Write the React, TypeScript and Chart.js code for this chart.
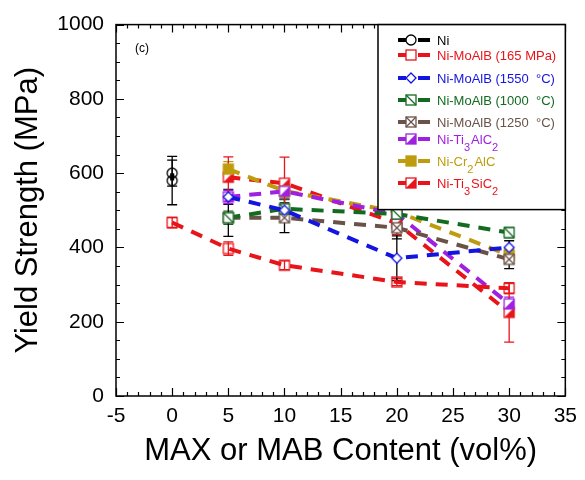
import React, { useEffect, useRef } from 'react';
import { Chart, registerables } from 'chart.js';
Chart.register(...registerables);

// ---- Data ----
const X_TICKS_MIN = -5;
const X_TICKS_MAX = 35;
const Y_MIN = 0;
const Y_MAX = 1000;

const NI_X = [0, 0];
const NI_Y = [600, 580];
const NI_ERR = [35, 65];

const MOALB165_X = [0, 5, 10, 20, 30];
const MOALB165_Y = [467, 397, 352, 307, 290];
const MOALB165_ERR = [14, 18, 12, 10, 14];

const MAX_X = [5, 10, 20, 30];

const MOALB1550_Y = [536, 500, 371, 400];
const MOALB1550_ERR = [20, 30, 60, 18];

const MOALB1000_Y = [480, 504, 490, 440];
const MOALB1000_ERR = [18, 25, 18, 14];

const MOALB1250_Y = [480, 480, 453, 368];
const MOALB1250_ERR = [50, 40, 30, 25];

const TI3ALC2_Y = [536, 551, 490, 248];
const TI3ALC2_ERR = [18, 18, 18, 18];

const CR2ALC_Y = [611, 552, 496, 379];
const CR2ALC_ERR = [20, 18, 15, 18];

const TI3SIC2_Y = [589, 573, 465, 225];
const TI3SIC2_ERR = [55, 70, 30, 80];

type Seg = { t: string; sub?: boolean };
const SERIES_LABELS: Seg[][] = [
  [{ t: 'Ni' }],
  [{ t: 'Ni-MoAlB (165 MPa)' }],
  [{ t: 'Ni-MoAlB (1550  °C)' }],
  [{ t: 'Ni-MoAlB (1000  °C)' }],
  [{ t: 'Ni-MoAlB (1250  °C)' }],
  [{ t: 'Ni-Ti' }, { t: '3', sub: true }, { t: 'AlC' }, { t: '2', sub: true }],
  [{ t: 'Ni-Cr' }, { t: '2', sub: true }, { t: 'AlC' }],
  [{ t: 'Ni-Ti' }, { t: '3', sub: true }, { t: 'SiC' }, { t: '2', sub: true }],
];
const COLORS = ['#000000', '#e8141a', '#1414e0', '#136b20', '#6a5248', '#a020e0', '#bf9b0e', '#e8141a'];
const ERR_COLORS = ['#000000', '#e8141a', '#000000', '#136b20', '#000000', '#a020e0', '#bf9b0e', '#e8141a'];
const MARKERS = ['circle', 'square', 'diamond', 'squareDiag', 'squareX', 'half', 'filled', 'half'];

function makeMarker(kind: string, color: string): HTMLCanvasElement {
  const s = 14;
  const c = document.createElement('canvas');
  c.width = s;
  c.height = s;
  const g = c.getContext('2d')!;
  const h = 5;
  const cx = s / 2, cy = s / 2;
  g.lineWidth = 1.3;
  g.strokeStyle = color;
  g.fillStyle = color;
  if (kind === 'circle') {
    g.beginPath(); g.arc(cx, cy, h, 0, Math.PI * 2); g.stroke();
  } else if (kind === 'diamond') {
    g.fillStyle = '#fff';
    g.beginPath(); g.moveTo(cx, cy - h); g.lineTo(cx + h, cy); g.lineTo(cx, cy + h); g.lineTo(cx - h, cy); g.closePath();
    g.fill(); g.stroke();
  } else if (kind === 'filled') {
    g.fillRect(cx - h - 0.65, cy - h - 0.65, 2 * h + 1.3, 2 * h + 1.3);
  } else {
    if (kind === 'squareDiag' || kind === 'squareX' || kind === 'half') {
      g.fillStyle = '#fff';
      g.fillRect(cx - h, cy - h, 2 * h, 2 * h);
      g.fillStyle = color;
    }
    g.strokeRect(cx - h, cy - h, 2 * h, 2 * h);
    if (kind === 'squareDiag' || kind === 'squareX') {
      g.beginPath(); g.moveTo(cx - h, cy - h); g.lineTo(cx + h, cy + h); g.stroke();
    }
    if (kind === 'squareX') {
      g.beginPath(); g.moveTo(cx + h, cy - h); g.lineTo(cx - h, cy + h); g.stroke();
    }
    if (kind === 'half') {
      g.beginPath(); g.moveTo(cx + h, cy - h); g.lineTo(cx + h, cy + h); g.lineTo(cx - h, cy + h); g.closePath(); g.fill();
    }
  }
  return c;
}

const FONT = '"Liberation Sans", Arial, Helvetica, sans-serif';

const App: React.FC = () => {
  const ref = useRef<HTMLCanvasElement | null>(null);

  useEffect(() => {
    document.body.style.margin = '0';
    const canvas = ref.current;
    if (!canvas) return;
    const markers = MARKERS.map((m, i) => makeMarker(m, COLORS[i]));

    const xsList = [NI_X, MOALB165_X, MAX_X, MAX_X, MAX_X, MAX_X, MAX_X, MAX_X];
    const ysList = [NI_Y, MOALB165_Y, MOALB1550_Y, MOALB1000_Y, MOALB1250_Y, TI3ALC2_Y, CR2ALC_Y, TI3SIC2_Y];
    const errList = [NI_ERR, MOALB165_ERR, MOALB1550_ERR, MOALB1000_ERR, MOALB1250_ERR, TI3ALC2_ERR, CR2ALC_ERR, TI3SIC2_ERR];

    const datasets = ysList.map((ys, i) => ({
      label: SERIES_LABELS[i].map((s) => s.t).join(''),
      data: ys.map((y, j) => ({ x: xsList[i][j], y })),
      showLine: true,
      borderColor: COLORS[i],
      backgroundColor: COLORS[i],
      borderWidth: 4,
      borderDash: [12, 9],
      pointStyle: markers[i] as any,
      pointRadius: 6,
      pointHoverRadius: 6,
      fill: false,
      tension: 0,
    }));

    const errorBars = {
      id: 'errorBars',
      beforeDatasetsDraw(chart: any) {
        const { ctx, scales } = chart;
        const xs = scales.x, ys = scales.y;
        ctx.save();
        ctx.lineWidth = 1.3;
        errList.forEach((errs, i) => {
          ctx.strokeStyle = ERR_COLORS[i];
          errs.forEach((e, j) => {
            const px = xs.getPixelForValue(xsList[i][j]);
            const v = ysList[i][j];
            const top = ys.getPixelForValue(v + e);
            const bot = ys.getPixelForValue(v - e);
            ctx.beginPath();
            ctx.moveTo(px, top); ctx.lineTo(px, bot);
            ctx.moveTo(px - 5, top); ctx.lineTo(px + 5, top);
            ctx.moveTo(px - 5, bot); ctx.lineTo(px + 5, bot);
            ctx.stroke();
          });
        });
        ctx.restore();
      },
    };

    const frame = {
      id: 'frame',
      afterDraw(chart: any) {
        const { ctx, chartArea: a, scales } = chart;
        const xs = scales.x, ys = scales.y;
        ctx.save();
        ctx.strokeStyle = '#000';
        ctx.lineWidth = 1.2;
        for (let v = X_TICKS_MIN; v <= X_TICKS_MAX; v += 1) {
          const px = Math.round(xs.getPixelForValue(v)) + 0.5;
          const len = v % 5 === 0 ? 8 : 4;
          ctx.beginPath();
          ctx.moveTo(px, a.bottom); ctx.lineTo(px, a.bottom - len);
          ctx.moveTo(px, a.top); ctx.lineTo(px, a.top + len);
          ctx.stroke();
        }
        for (let v = Y_MIN; v <= Y_MAX; v += 50) {
          const py = Math.round(ys.getPixelForValue(v)) + 0.5;
          const len = v % 200 === 0 ? 8 : 4;
          ctx.beginPath();
          ctx.moveTo(a.left, py); ctx.lineTo(a.left + len, py);
          ctx.moveTo(a.right, py); ctx.lineTo(a.right - len, py);
          ctx.stroke();
        }
        ctx.lineWidth = 1.5;
        ctx.strokeRect(a.left, a.top, a.right - a.left, a.bottom - a.top);

        ctx.fillStyle = '#000';
        ctx.font = `12px ${FONT}`;
        ctx.textBaseline = 'middle';
        ctx.textAlign = 'left';
        ctx.fillText('(c)', a.left + 19, a.top + 24);

        const lx = 378, ly = a.top, lw = a.right - 378, lh = 185;
        ctx.fillStyle = '#fff';
        ctx.fillRect(lx, ly, lw, lh);
        ctx.lineWidth = 1.5;
        ctx.strokeStyle = '#000';
        ctx.strokeRect(lx, ly, lw, lh);
        const rowY = [40, 55, 78, 100, 122, 139, 161, 183];
        SERIES_LABELS.forEach((segs, i) => {
          const y = rowY[i];
          ctx.strokeStyle = COLORS[i];
          ctx.lineWidth = 4;
          ctx.setLineDash([]);
          ctx.beginPath();
          ctx.moveTo(398, y); ctx.lineTo(406, y);
          ctx.moveTo(418, y); ctx.lineTo(430, y);
          ctx.stroke();
          ctx.drawImage(markers[i], 411 - 7, y - 7);
          let tx = 437;
          ctx.fillStyle = COLORS[i];
          ctx.textAlign = 'left';
          ctx.textBaseline = 'middle';
          segs.forEach((s) => {
            if (s.sub) {
              ctx.font = `11px ${FONT}`;
              ctx.fillText(s.t, tx, y + 9);
            } else {
              ctx.font = `13px ${FONT}`;
              ctx.fillText(s.t, tx, y + 1);
            }
            tx += ctx.measureText(s.t).width + (s.sub ? 1 : 0);
          });
        });
        ctx.restore();
      },
    };

    const chart = new Chart(canvas, {
      type: 'scatter',
      data: { datasets: datasets as any },
      plugins: [errorBars, frame],
      options: {
        animation: false,
        responsive: false,
        maintainAspectRatio: false,
        layout: { padding: { top: 21, right: 13, left: 0, bottom: 0 } },
        plugins: { legend: { display: false }, tooltip: { enabled: false } },
        scales: {
          x: {
            type: 'linear',
            min: X_TICKS_MIN,
            max: X_TICKS_MAX,
            border: { display: false },
            grid: { display: false, drawTicks: false },
            ticks: { stepSize: 5, padding: 8, color: '#000', font: { family: FONT, size: 21 }, callback: (v: any) => String(v) },
            title: { display: true, text: 'MAX or MAB Content (vol%)', color: '#000', font: { family: FONT, size: 31 }, padding: { top: 10, bottom: 10 } },
            afterFit(scale: any) { scale.height = 84; },
          },
          y: {
            type: 'linear',
            min: Y_MIN,
            max: Y_MAX,
            border: { display: false },
            grid: { display: false, drawTicks: false },
            ticks: { stepSize: 200, padding: 12, color: '#000', font: { family: FONT, size: 21 }, callback: (v: any) => String(v) },
            title: { display: true, text: 'Yield Strength (MPa)', color: '#000', font: { family: FONT, size: 31 }, padding: { top: 10, bottom: 0 } },
            afterFit(scale: any) { scale.width = 116; },
          },
        },
      },
    });
    return () => chart.destroy();
  }, []);

  return (
    <div style={{ width: 585, height: 480, background: '#fff' }}>
      <canvas ref={ref} width={585} height={480} style={{ width: 585, height: 480, display: 'block' }} />
    </div>
  );
};

export default App;
